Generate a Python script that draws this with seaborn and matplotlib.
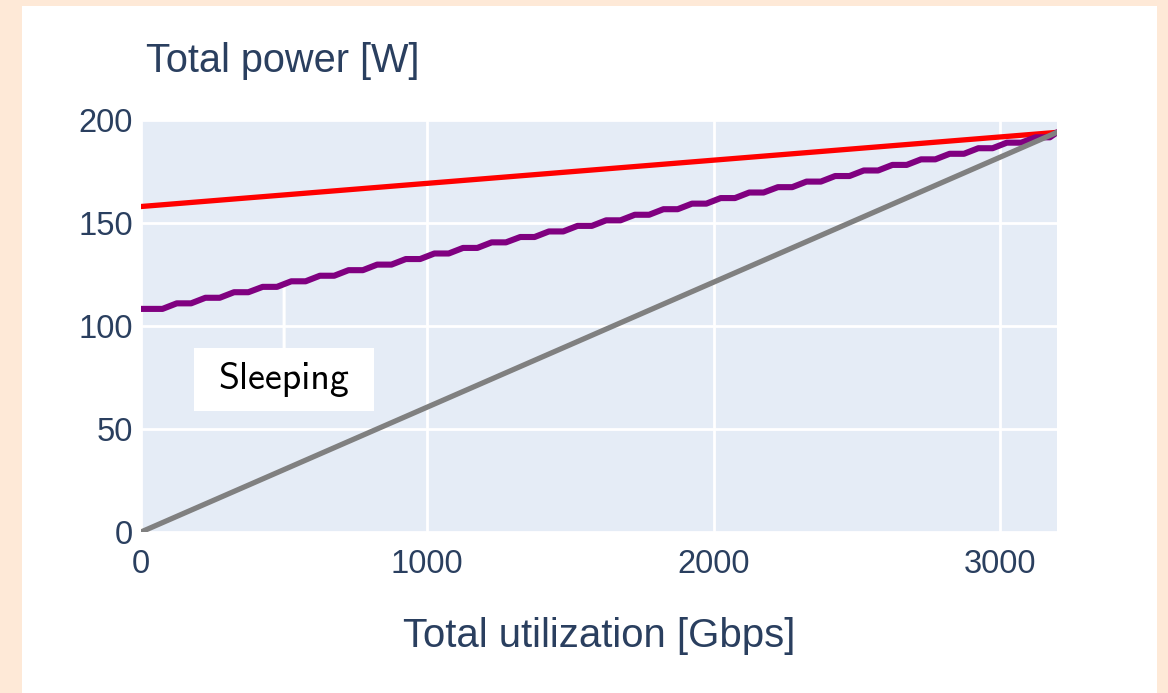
import matplotlib
matplotlib.use("Agg")
import matplotlib.pyplot as plt
from matplotlib.patches import Rectangle
from matplotlib.path import Path
import numpy as np
import pandas as pd
import seaborn as sns

# ---------------- data ----------------
red_x = [0, 3200]
red_y = [158, 194]

gray_x = [0, 3200]
gray_y = [0, 194]

# sleeping curve: plateau level for each 100 Gbps step, then end value
step_start = [0, 100, 200, 300, 400, 500, 600, 700, 800, 900, 1000, 1100, 1200, 1300,
              1400, 1500, 1600, 1700, 1800, 1900, 2000, 2100, 2200, 2300, 2400, 2500,
              2600, 2700, 2800, 2900, 3000, 3100]
step_level = [108.3, 111.0, 113.7, 116.4, 119.0, 121.7, 124.4, 127.1, 129.8, 132.5,
              135.2, 137.9, 140.6, 143.2, 145.9, 148.6, 151.3, 154.0, 156.7, 159.4,
              162.1, 164.8, 167.4, 170.1, 172.8, 175.5, 178.2, 180.9, 183.6, 186.3,
              189.0, 191.6]
end_x, end_y = 3200, 194

x_ticks = [0, 1000, 2000, 3000]
y_ticks = [0, 50, 100, 150, 200]
x_title = "Total utilization [Gbps]"
y_title = "Total power [W]"
annot_text = "Sleeping"
annot_x, annot_y_point, annot_y_text = 500, 120.5, 74

# ---------------- build purple path ----------------
px, py = [0], [step_level[0]]
for s, lv in zip(step_start, step_level):
    px += [s + 25, s + 75]
    py += [lv, lv]
px.append(end_x)
py.append(end_y)

TXT = "#2a3f5f"
FONT = ["Liberation Sans", "DejaVu Sans"]

sns.set_style("white")
plt.rcParams["font.family"] = FONT


def wide_box(x0, y0, width, height, mutation_size):
    padx = 0.64 * mutation_size
    pady = 0.36 * mutation_size
    x0, y0 = x0 - padx, y0 - pady
    x1, y1 = x0 + width + 2 * padx, y0 + height + 2 * pady
    return Path([(x0, y0), (x1, y0), (x1, y1), (x0, y1), (x0, y0)], closed=True)


fig = plt.figure(figsize=(11.68, 6.93), dpi=100)
fig.patch.set_facecolor("#FEE9D7")
fig.add_artist(Rectangle((22 / 1168, 0), (1157 - 22) / 1168, (693 - 6) / 693,
                         transform=fig.transFigure, facecolor="white",
                         edgecolor="none", zorder=0))

ax = fig.add_axes([141 / 1168, (693 - 532) / 693, (1057 - 141) / 1168, (532 - 120) / 693])
ax.set_facecolor("#E5ECF6")

sns.lineplot(x=red_x, y=red_y, ax=ax, color="#FF0000", linewidth=3.8, sort=False,
             estimator=None, zorder=3)
sns.lineplot(x=px, y=py, ax=ax, color="#800080", linewidth=4.4, sort=False,
             estimator=None, zorder=4, solid_joinstyle="round", solid_capstyle="round")
sns.lineplot(x=gray_x, y=gray_y, ax=ax, color="#808080", linewidth=3.8, sort=False,
             estimator=None, zorder=5)

ax.set_xlim(0, 3200)
ax.set_ylim(0, 200)
ax.set_xticks(x_ticks)
ax.set_yticks(y_ticks)
ax.set_xticklabels([str(v) for v in x_ticks])
ax.set_yticklabels([str(v) for v in y_ticks])
ax.grid(True, color="white", linewidth=2.0)
ax.set_axisbelow(True)
for sp in ax.spines.values():
    sp.set_visible(False)
ax.tick_params(axis="both", length=0, labelsize=23.5, colors=TXT)
ax.tick_params(axis="y", pad=6)
ax.tick_params(axis="x", pad=12)
ax.set_xlabel(x_title, fontsize=28.9, color=TXT, labelpad=27)
ax.set_ylabel("")

fig.text(146 / 1168, 1 - 61 / 693, y_title, fontsize=28.6, color=TXT,
         ha="left", va="center")

ax.annotate(annot_text, xy=(annot_x, annot_y_point), xytext=(annot_x, annot_y_text),
            textcoords="data", ha="center", va="center", fontsize=27.3,
            family=["cmss10", "DejaVu Sans"], color="black",
            bbox=dict(boxstyle=wide_box, fc="white", ec="none"),
            arrowprops=dict(arrowstyle="-", color="white", lw=2.2, shrinkA=0, shrinkB=0),
            zorder=2)

fig.savefig("out.png", dpi=100, facecolor=fig.get_facecolor())
